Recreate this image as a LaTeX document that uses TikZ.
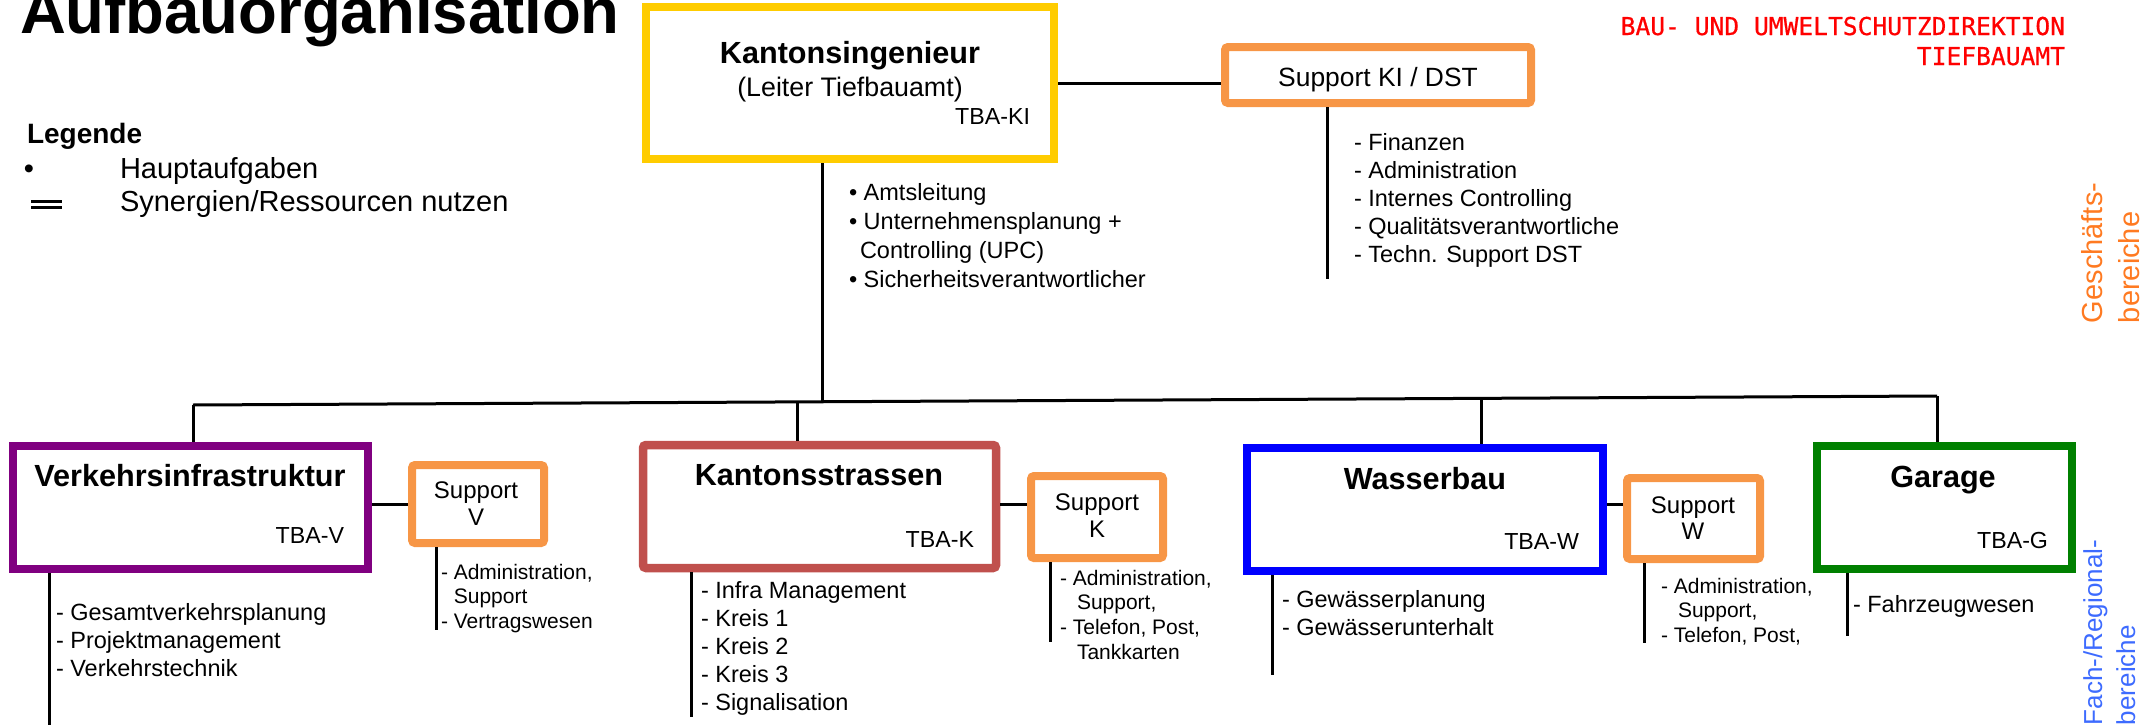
\documentclass[tikz,border=0pt]{standalone}
\usepackage{fontspec}
\setmainfont{Liberation Sans}
\newfontfamily\hdrfont[FakeBold=0.6]{DejaVu Sans Mono}
\definecolor{kiyellow}{HTML}{FFCC00}
\definecolor{suporange}{HTML}{F79646}
\definecolor{vipurple}{HTML}{800080}
\definecolor{ksred}{HTML}{C0504D}
\definecolor{wbblue}{HTML}{0000FF}
\definecolor{ggreen}{HTML}{008000}
\definecolor{hdrred}{HTML}{FF0000}
\definecolor{gborange}{HTML}{FF7A21}
\definecolor{fbblue}{HTML}{3D6BFF}
\newcommand\tlines[1]{\begin{tabular}[t]{@{}l@{}}#1\end{tabular}}
\begin{document}
\begin{tikzpicture}[x=0.5pt,y=-0.5pt,
  box/.style={draw, rectangle, inner sep=0pt, line width=4.25pt},
  supbox/.style={draw=suporange, rectangle, rounded corners=1.5pt, inner sep=0pt, line width=4pt},
  conn/.style={line width=1.5pt, draw=black},
  txt/.style={inner sep=0pt, outer sep=0pt},
  ttl/.style={txt, anchor=base, font=\fontsize{15.3}{18}\selectfont\bfseries},
  code/.style={txt, anchor=base east, font=\fontsize{11.6}{14}\selectfont},
  lst/.style={txt, anchor=base west, font=\fontsize{11.75}{14}\selectfont},
  slst/.style={txt, anchor=base west, font=\fontsize{10.5}{12.4}\selectfont},
  suptxt/.style={txt, anchor=base, font=\fontsize{12}{13.5}\selectfont},
  legtxt/.style={txt, anchor=base west, font=\fontsize{14.5}{17}\selectfont},
  hdr/.style={txt, anchor=base east, text=hdrred, font=\hdrfont\fontsize{12.3}{15}\selectfont},
  vlab/.style={txt, anchor=base west, rotate=90}]
\useasboundingbox (0,0) rectangle (2149,728);

% title and header
\node[txt, anchor=base west, font=\fontsize{31.75}{38}\selectfont\bfseries] (title) at (20,33) {Aufbauorganisation};
\node[hdr] (hdr1) at (2065,35) {BAU- UND UMWELTSCHUTZDIREKTION};
\node[hdr] (hdr2) at (2065,65) {TIEFBAUAMT};

% legend
\node[txt, anchor=base west, font=\fontsize{14}{17}\selectfont\bfseries] (leg) at (27,143) {Legende};
\node[legtxt] (legb) at (24,178) {•};
\node[legtxt] (leg1) at (120,178) {Hauptaufgaben};
\node[legtxt] (leg2) at (120,211) {Synergien/Ressourcen nutzen};
\draw[line width=1.4pt] (31,201.5) -- (62,201.5) (31,207.5) -- (62,207.5);

% boxes
\node[box, draw=kiyellow, minimum width=204pt, minimum height=76pt] (ki) at (850,83) {};
\node[supbox, minimum width=153pt, minimum height=28pt] (supki) at (1378,75) {};
\node[box, draw=vipurple, minimum width=177.5pt, minimum height=61.5pt] (vi) at (190.5,507.5) {};
\node[supbox, minimum width=66pt, minimum height=39pt] (supv) at (478,504) {};
\node[box, draw=ksred, rounded corners=1.5pt, minimum width=176.5pt, minimum height=61.5pt] (ks) at (819.5,506.5) {};
\node[supbox, minimum width=66pt, minimum height=41pt] (supk) at (1097,517) {};
\node[box, draw=wbblue, minimum width=178pt, minimum height=61.5pt] (wb) at (1425,509.5) {};
\node[supbox, minimum width=66.5pt, minimum height=40.5pt] (supw) at (1693.5,518.5) {};
\node[box, draw=ggreen, minimum width=127.5pt, minimum height=61.5pt] (g) at (1944.5,507.5) {};

% box texts
\node[ttl] (kit) at (850,63) {Kantonsingenieur};
\node[txt, anchor=base, font=\fontsize{13.4}{16}\selectfont] (kis) at (850,96) {(Leiter Tiefbauamt)};
\node[code] (kic) at (1030,124) {TBA-KI};
\node[txt, anchor=base, font=\fontsize{13.2}{16}\selectfont] (supkit) at (1378,86) {Support KI / DST};

\node[ttl] (vit) at (190,486) {Verkehrsinfrastruktur};
\node[code] (vic) at (344,543) {TBA-V};
\node[ttl] (kst) at (819,485) {Kantonsstrassen};
\node[code] (ksc) at (974,547) {TBA-K};
\node[ttl] (wbt) at (1425,489) {Wasserbau};
\node[code] (wbc) at (1579,549) {TBA-W};
\node[ttl] (gt) at (1943,487) {Garage};
\node[code] (gc) at (2048,548) {TBA-G};

\node[suptxt] (supv1) at (476,498) {Support};
\node[suptxt] (supv2) at (476,525) {V};
\node[suptxt] (supk1) at (1097,510) {Support};
\node[suptxt] (supk2) at (1097,537) {K};
\node[suptxt] (supw1) at (1693,513) {Support};
\node[suptxt] (supw2) at (1693,539) {W};

% connectors to support boxes
\draw[conn] (ki.east) -- (ki.east -| supki.west);
\draw[conn] (supv.west -| vi.east) -- (supv.west);
\draw[conn] ([yshift=1.25pt]ks.east) -- ([yshift=1.25pt]ks.east -| supk.west);
\draw[conn] ([yshift=2.75pt]wb.east) -- ([yshift=2.75pt]wb.east -| supw.west);

% main bar
\coordinate (barL) at (193,405);
\coordinate (barR) at (1937,396);
\coordinate (bKI) at (822,401.8);
\coordinate (bK) at (797,401.9);
\coordinate (bW) at (1481,398.3);
\draw[conn] (barL) -- (barR);
\draw[conn] (ki.south -| bKI) -- (bKI);
\draw[conn] (barL) -- (vi.north -| barL);
\draw[conn] (bK) -- (bK |- ks.north);
\draw[conn] (bW) -- (bW |- wb.north);
\draw[conn] (barR) -- (barR |- g.north);

% list lines
\coordinate (eKI) at (1327,279);
\coordinate (eVI) at (49,725);
\coordinate (eSV) at (436,630);
\coordinate (eKS) at (691,717);
\coordinate (eSK) at (1050,642);
\coordinate (eWB) at (1272,675);
\coordinate (eSW) at (1644,643);
\coordinate (eG) at (1847,636);
\draw[conn] (supki.south -| eKI) -- (eKI);
\draw[conn] (vi.south -| eVI) -- (eVI);
\draw[conn] (supv.south -| eSV) -- (eSV);
\draw[conn] (ks.south -| eKS) -- (eKS);
\draw[conn] (supk.south -| eSK) -- (eSK);
\draw[conn] (wb.south -| eWB) -- (eWB);
\draw[conn] (supw.south -| eSW) -- (eSW);
\draw[conn] (g.south -| eG) -- (eG);

% lists
\node[txt, anchor=base west, font=\fontsize{11.75}{14.5}\selectfont] (kil) at (849,200)
  {\tlines{• Amtsleitung\\• Unternehmensplanung +\\\hspace*{5.5pt}Controlling (UPC)\\• Sicherheitsverantwortlicher}};
\node[lst] (supkil) at (1354,150)
  {\tlines{- Finanzen\\- Administration\\- Internes Controlling\\- Qualitätsverantwortliche\\- Techn. Support DST}};
\node[lst] (vil) at (56,620)
  {\tlines{- Gesamtverkehrsplanung\\- Projektmanagement\\- Verkehrstechnik}};
\node[lst] (ksl) at (701,598)
  {\tlines{- Infra Management\\- Kreis 1\\- Kreis 2\\- Kreis 3\\- Signalisation}};
\node[lst] (wbl) at (1282,607)
  {\tlines{- Gewässerplanung\\- Gewässerunterhalt}};
\node[lst] (gl) at (1853,612) {\tlines{- Fahrzeugwesen}};
\node[slst] (supvl) at (441,579)
  {\tlines{- Administration,\\\phantom{- }Support\\- Vertragswesen}};
\node[slst] (supkl) at (1060,585)
  {\tlines{- Administration,\\\hspace*{8.5pt}Support,\\- Telefon, Post,\\\hspace*{8.5pt}Tankkarten}};
\node[slst] (supwl) at (1661,593)
  {\tlines{- Administration,\\\hspace*{8.5pt}Support,\\- Telefon, Post,}};

% side labels
\node[vlab, text=gborange, font=\fontsize{14.5}{17}\selectfont] (gb1) at (2102,323) {Geschäfts-};
\node[vlab, text=gborange, font=\fontsize{14.5}{17}\selectfont] (gb2) at (2139,323) {bereiche};
\node[vlab, text=fbblue, font=\fontsize{13}{16}\selectfont] (fb1) at (2102,725) {Fach-/Regional-};
\node[vlab, text=fbblue, font=\fontsize{13}{16}\selectfont] (fb2) at (2135,725) {bereiche};
\end{tikzpicture}
\end{document}
